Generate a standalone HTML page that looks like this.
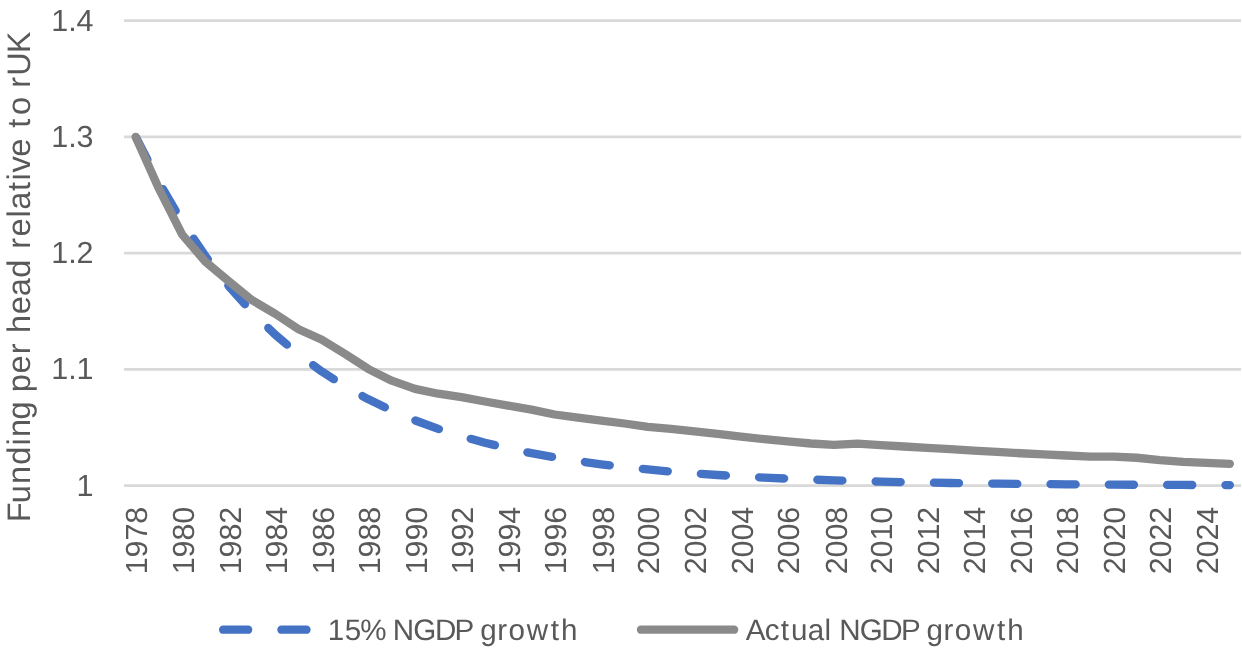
<!DOCTYPE html>
<html lang="en"><head><meta charset="utf-8"><title>Funding per head relative to rUK</title>
<style>
html,body{margin:0;padding:0;background:#fff;}
body{width:1242px;height:650px;overflow:hidden;}
svg{display:block;will-change:transform;}
text{font-family:"Liberation Sans",sans-serif;fill:#595959;text-rendering:geometricPrecision;}
.tick text{font-size:30.5px;}
.legend text{font-size:29.6px;}
.title{font-size:32.6px;}
</style></head><body>
<svg width="1242" height="650" viewBox="0 0 1242 650">
<g stroke="#D9D9D9" stroke-width="2.6" fill="none"><line x1="124" x2="1241" y1="20.60" y2="20.60"/><line x1="124" x2="1241" y1="136.85" y2="136.85"/><line x1="124" x2="1241" y1="253.10" y2="253.10"/><line x1="124" x2="1241" y1="369.35" y2="369.35"/><line x1="124" x2="1241" y1="485.60" y2="485.60"/></g>
<path d="M135.64 136.70 L158.92 182.21 L182.20 221.78 L205.48 256.19 L228.76 286.12 L252.04 312.14 L275.33 334.76 L298.61 354.44 L321.89 371.54 L345.17 386.42 L368.45 399.36 L391.73 410.61 L415.01 420.39 L438.29 428.89 L461.57 436.29 L484.85 442.72 L508.14 448.31 L531.42 453.18 L554.70 457.41 L577.98 461.08 L601.26 464.28 L624.54 467.06 L647.82 469.48 L671.10 471.58 L694.38 473.41 L717.66 475.00 L740.95 476.38 L764.23 477.59 L787.51 478.63 L810.79 479.54 L834.07 480.33 L857.35 481.02 L880.63 481.62 L903.91 482.14 L927.19 482.59 L950.47 482.98 L973.76 483.32 L997.04 483.62 L1020.32 483.88 L1043.60 484.10 L1066.88 484.30 L1090.16 484.47 L1113.44 484.62 L1136.72 484.74 L1160.00 484.86 L1183.28 484.95 L1206.57 485.04 L1229.85 485.11" fill="none" stroke="#4472C4" stroke-width="8.3" stroke-linecap="round" stroke-linejoin="round" stroke-dasharray="25.10 33.21" stroke-dashoffset="-0.8"/>
<path d="M135.64 136.90 L158.92 188.70 L182.20 234.60 L205.48 261.80 L228.76 281.20 L252.04 300.20 L275.33 313.90 L298.61 329.20 L321.89 339.80 L345.17 354.00 L368.45 369.10 L391.73 380.70 L415.01 388.90 L438.29 393.70 L461.57 397.20 L484.85 401.50 L508.14 405.60 L531.42 409.60 L554.70 414.50 L577.98 417.70 L601.26 420.60 L624.54 423.50 L647.82 426.80 L671.10 428.90 L694.38 431.30 L717.66 433.85 L740.95 436.55 L764.23 439.10 L787.51 441.45 L810.79 443.50 L834.07 444.90 L857.35 443.70 L880.63 445.20 L903.91 446.50 L927.19 447.80 L950.47 449.05 L973.76 450.55 L997.04 451.90 L1020.32 453.25 L1043.60 454.45 L1066.88 455.50 L1090.16 456.60 L1113.44 456.55 L1136.72 457.75 L1160.00 460.20 L1183.28 461.90 L1206.57 462.85 L1229.85 463.85" fill="none" stroke="#8A8A8A" stroke-width="8.3" stroke-linecap="round" stroke-linejoin="round"/>
<g class="tick"><text x="51.27 68.17 76.57" y="30.60">1.4</text><text x="51.27 68.17 76.57" y="146.85">1.3</text><text x="51.27 68.17 76.57" y="263.10">1.2</text><text x="51.27 68.17 76.57" y="379.35">1.1</text><text x="76.57" y="495.60">1</text></g>
<g class="tick"><text transform="translate(147.14 574.3) rotate(-90)" x="-0.03 16.87 33.76 50.66">1978</text><text transform="translate(194.21 574.3) rotate(-90)" x="-0.03 16.87 33.76 50.66">1980</text><text transform="translate(240.89 574.3) rotate(-90)" x="-0.03 16.87 33.76 50.66">1982</text><text transform="translate(287.46 574.3) rotate(-90)" x="-0.03 16.87 33.76 50.66">1984</text><text transform="translate(334.04 574.3) rotate(-90)" x="-0.03 16.87 33.76 50.66">1986</text><text transform="translate(379.81 574.3) rotate(-90)" x="-0.03 16.87 33.76 50.66">1988</text><text transform="translate(427.28 574.3) rotate(-90)" x="-0.03 16.87 33.76 50.66">1990</text><text transform="translate(472.76 574.3) rotate(-90)" x="-0.03 16.87 33.76 50.66">1992</text><text transform="translate(520.33 574.3) rotate(-90)" x="-0.03 16.87 33.76 50.66">1994</text><text transform="translate(566.21 574.3) rotate(-90)" x="-0.03 16.87 33.76 50.66">1996</text><text transform="translate(613.58 574.3) rotate(-90)" x="-0.03 16.87 33.76 50.66">1998</text><text transform="translate(659.05 574.3) rotate(-90)" x="-0.03 16.87 33.76 50.66">2000</text><text transform="translate(705.63 574.3) rotate(-90)" x="-0.03 16.87 33.76 50.66">2002</text><text transform="translate(753.20 574.3) rotate(-90)" x="-0.03 16.87 33.76 50.66">2004</text><text transform="translate(798.78 574.3) rotate(-90)" x="-0.03 16.87 33.76 50.66">2006</text><text transform="translate(846.55 574.3) rotate(-90)" x="-0.03 16.87 33.76 50.66">2008</text><text transform="translate(891.92 574.3) rotate(-90)" x="-0.03 16.87 33.76 50.66">2010</text><text transform="translate(938.50 574.3) rotate(-90)" x="-0.03 16.87 33.76 50.66">2012</text><text transform="translate(985.07 574.3) rotate(-90)" x="-0.03 16.87 33.76 50.66">2014</text><text transform="translate(1031.65 574.3) rotate(-90)" x="-0.03 16.87 33.76 50.66">2016</text><text transform="translate(1078.22 574.3) rotate(-90)" x="-0.03 16.87 33.76 50.66">2018</text><text transform="translate(1124.79 574.3) rotate(-90)" x="-0.03 16.87 33.76 50.66">2020</text><text transform="translate(1171.17 574.3) rotate(-90)" x="-0.03 16.87 33.76 50.66">2022</text><text transform="translate(1217.94 574.3) rotate(-90)" x="-0.03 16.87 33.76 50.66">2024</text></g>
<text class="title" transform="translate(30.2 520.6) rotate(-90)" x="-1.54 17.39 36.64 55.90 75.16 83.54 101.21 119.12 128.36 147.11 166.28 177.72 187.55 206.41 224.32 242.83 261.64 271.78 284.07 303.05 310.79 329.55 340.09 348.15 363.96 382.17 392.85 405.52 423.56 432.91 444.93 467.44">Funding per head relative to rUK</text>
<g class="legend">
<line x1="223.1" x2="316.0" y1="629.7" y2="629.7" stroke="#4472C4" stroke-width="8.3" stroke-linecap="round" stroke-dasharray="25.10 33.21"/>
<text y="639.5" x="327.82 344.72 360.15 384.88 392.84 413.30 434.88 454.56 472.71 480.20 497.17 508.47 526.71 550.78 560.99">15% NGDP growth</text>
<line x1="640.95" x2="734.15" y1="629.7" y2="629.7" stroke="#8A8A8A" stroke-width="8.3" stroke-linecap="round"/>
<text y="639.5" x="745.68 764.85 780.77 790.98 807.71 824.45 831.21 839.17 859.63 881.21 900.90 919.04 926.53 943.50 954.80 973.04 997.11 1007.33">Actual NGDP growth</text>
</g>
</svg>
</body></html>
